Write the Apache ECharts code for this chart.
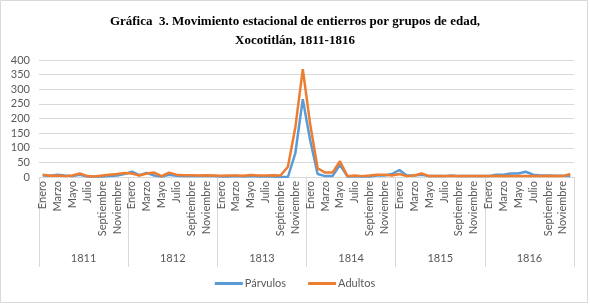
<!DOCTYPE html>
<html lang="es">
<head>
    <meta charset="UTF-8">
    <title>Gráfica 3 - Xocotitlán</title>
    <script src="https://cdn.jsdelivr.net/npm/echarts@6.0.0/dist/echarts.min.js"></script>
    <style>
        * { margin: 0; padding: 0; box-sizing: border-box; }
        html, body { width: 590px; height: 304px; overflow: hidden; background: #fff; }
        #chart { width: 590px; height: 304px; }
    </style>
</head>
<body>
    <div id="chart"></div>
    <script>
        // datos
        const years = ['1811', '1812', '1813', '1814', '1815', '1816'];
        const monthNames = ['Enero', 'Febrero', 'Marzo', 'Abril', 'Mayo', 'Junio',
            'Julio', 'Agosto', 'Septiembre', 'Octubre', 'Noviembre', 'Diciembre'];

        const parvulos = [
            5, 4, 8, 5, 3, 8, 2, 2, 2, 3, 5, 10,        // 1811
            18, 6, 14, 5, 2, 8, 4, 3, 3, 3, 3, 3,       // 1812
            2, 2, 3, 2, 3, 2, 2, 2, 0, 0, 82, 266,      // 1813
            125, 10, 3, 3, 42, 2, 2, 2, 2, 5, 5, 10,    // 1814
            24, 5, 5, 8, 3, 3, 3, 5, 3, 3, 3, 3,        // 1815
            3, 8, 8, 12, 12, 18, 8, 5, 5, 4, 4, 3       // 1816
        ];
        const adultos = [
            8, 4, 5, 3, 5, 12, 3, 2, 5, 8, 10, 14,      // 1811
            12, 5, 12, 15, 3, 15, 8, 6, 6, 5, 6, 5,     // 1812
            4, 5, 5, 4, 7, 5, 5, 6, 5, 35, 170, 369,    // 1813
            180, 30, 15, 15, 54, 3, 5, 3, 5, 8, 8, 5,   // 1814
            10, 3, 5, 12, 3, 3, 3, 3, 3, 3, 3, 3,       // 1815
            3, 3, 3, 3, 3, 3, 3, 3, 4, 3, 3, 10         // 1816
        ];

        const months = [];
        years.forEach(() => monthNames.forEach(m => months.push(m)));

        const gris = '#595959';
        const linea = '#d9d9d9';

        const chart = echarts.init(document.getElementById('chart'), null, { renderer: 'canvas' });

        chart.setOption({
            animation: false,
            title: {
                text: 'Gráfica  3. Movimiento estacional de entierros por grupos de edad,\nXocotitlán, 1811-1816',
                left: 'center',
                top: 7,
                textStyle: {
                    fontFamily: 'Liberation Serif',
                    fontWeight: 'bold',
                    fontSize: 13,
                    lineHeight: 19,
                    color: '#000'
                }
            },
            graphic: [{
                type: 'rect',
                shape: { x: 0.5, y: 0.5, width: 587, height: 302 },
                style: { fill: 'none', stroke: linea, lineWidth: 1 },
                silent: true
            }],
            legend: {
                bottom: 10,
                left: 'center',
                itemGap: 22,
                itemWidth: 28,
                itemHeight: 3,
                icon: 'rect',
                textStyle: { fontFamily: 'Lato', fontSize: 11, color: gris, padding: [0, 0, 0, -3] },
                data: ['Párvulos', 'Adultos']
            },
            grid: { left: 39, right: 16, top: 60, bottom: 127 },
            xAxis: [{
                type: 'category',
                data: months,
                boundaryGap: true,
                axisLine: { show: true, lineStyle: { color: linea } },
                axisTick: { show: false },
                axisLabel: {
                    interval: 1,
                    rotate: 90,
                    margin: 4,
                    fontFamily: 'Lato',
                    fontSize: 11,
                    color: gris
                }
            }, {
                type: 'category',
                data: years,
                position: 'bottom',
                boundaryGap: true,
                axisLine: { show: false },
                axisTick: { show: true, interval: 0, length: 90, lineStyle: { color: linea } },
                axisLabel: {
                    interval: 0,
                    margin: 76,
                    fontFamily: 'Lato',
                    fontSize: 11,
                    color: gris
                }
            }],
            yAxis: {
                type: 'value',
                min: 0,
                max: 400,
                interval: 50,
                axisLine: { show: false },
                axisTick: { show: false },
                splitLine: { lineStyle: { color: linea } },
                axisLabel: { fontFamily: 'Lato', fontSize: 11, color: gris, margin: 9 }
            },
            series: [{
                name: 'Párvulos',
                type: 'line',
                data: parvulos,
                symbol: 'none',
                itemStyle: { color: '#5B9BD5' },
                lineStyle: { width: 2.5, color: '#5B9BD5' }
            }, {
                name: 'Adultos',
                type: 'line',
                data: adultos,
                symbol: 'none',
                itemStyle: { color: '#ED7D31' },
                lineStyle: { width: 2.5, color: '#ED7D31' }
            }]
        });
    </script>
</body>
</html>
